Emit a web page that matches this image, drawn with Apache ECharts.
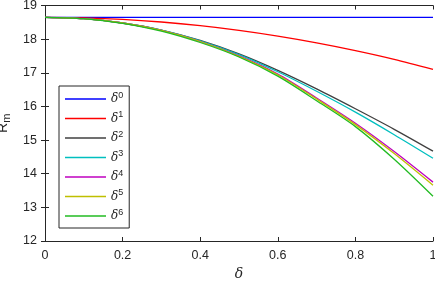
<!DOCTYPE html>
<html><head><meta charset="utf-8">
<script src="https://cdn.jsdelivr.net/npm/echarts@6/dist/echarts.min.js"></script>
<style>html,body{margin:0;padding:0;background:#fff}#c{width:435px;height:282px}</style>
</head><body><div id="c"></div>
<script>
const deltas = [0, 0.1, 0.2, 0.3, 0.4, 0.5, 0.6, 0.7, 0.8, 0.9, 1.0];
const seriesNames = ['0','1','2','3','4','5','6'];
const r0 = [18.65, 18.65, 18.65, 18.65, 18.65, 18.65, 18.65, 18.65, 18.65, 18.65, 18.65];
const r1 = [18.65, 18.635, 18.59, 18.51, 18.40, 18.26, 18.09, 17.89, 17.66, 17.40, 17.10];
const r2 = [18.65, 18.61, 18.48, 18.27, 17.96, 17.56, 17.07, 16.52, 15.93, 15.32, 14.67];
const r3 = [18.65, 18.61, 18.48, 18.27, 17.95, 17.54, 17.03, 16.45, 15.83, 15.16, 14.46];
const r4 = [18.65, 18.61, 18.48, 18.26, 17.93, 17.50, 16.96, 16.25, 15.50, 14.66, 13.75];
const r5 = [18.65, 18.61, 18.48, 18.26, 17.93, 17.49, 16.94, 16.22, 15.46, 14.60, 13.66];
const r6 = [18.65, 18.61, 18.47, 18.24, 17.90, 17.47, 16.90, 16.17, 15.40, 14.43, 13.33];
const xTicks = [0, 0.2, 0.4, 0.6, 0.8, 1];
const yTicks = [12, 13, 14, 15, 16, 17, 18, 19];
const colors = ['#0000ff', '#ff0000', '#404040', '#00bfbf', '#bf00bf', '#bfbf00', '#22bb22'];
const allSeries = [r0, r1, r2, r3, r4, r5, r6];

const axisColor = '#262626';
const font = 'Liberation Sans, Arial, sans-serif';

const chart = echarts.init(document.getElementById('c'));
const option = {
  animation: false,
  backgroundColor: '#fff',
  grid: { left: 45, right: 2, top: 5.5, bottom: 41, containLabel: false, outerBoundsMode: 'none' },
  xAxis: [
    { type: 'value', min: 0, max: 1, interval: 0.2,
      name: 'δ', nameLocation: 'middle', nameGap: 24,
      nameTextStyle: { fontFamily: 'DejaVu Serif, serif', fontStyle: 'italic', fontSize: 14, color: axisColor },
      axisLine: { show: true, lineStyle: { color: axisColor, width: 1 } },
      axisTick: { show: true, inside: true, length: 4, lineStyle: { color: axisColor } },
      axisLabel: { color: axisColor, fontFamily: font, fontSize: 12.5, margin: 8,
        formatter: v => (Math.abs(v) < 1e-9 ? '0' : (Math.abs(v-1) < 1e-9 ? '1' : String(+v.toFixed(1)))) },
      splitLine: { show: false } },
    { type: 'value', min: 0, max: 1, interval: 0.2, position: 'top',
      axisLine: { show: true, lineStyle: { color: axisColor, width: 1 } },
      axisTick: { show: true, inside: true, length: 4, lineStyle: { color: axisColor } },
      axisLabel: { show: false }, splitLine: { show: false } }
  ],
  yAxis: [
    { type: 'value', min: 12, max: 19, interval: 1,
      name: '{r|R}{m|m}', nameLocation: 'middle', nameGap: 29, nameRotate: 90,
      nameTextStyle: { color: axisColor, fontFamily: font,
        rich: { r: { fontSize: 14, fontFamily: font, color: axisColor },
                m: { fontSize: 11, fontFamily: font, color: axisColor, padding: [8, 0, 0, 0] } } },
      axisLine: { show: true, lineStyle: { color: axisColor, width: 1 } },
      axisTick: { show: true, inside: true, length: 4, lineStyle: { color: axisColor } },
      axisLabel: { color: axisColor, fontFamily: font, fontSize: 12.5, margin: 8 },
      splitLine: { show: false } },
    { type: 'value', min: 12, max: 19, interval: 1, position: 'right',
      axisLine: { show: true, lineStyle: { color: axisColor, width: 1 } },
      axisTick: { show: true, inside: true, length: 4, lineStyle: { color: axisColor } },
      axisLabel: { show: false }, splitLine: { show: false } }
  ],
  legend: {
    orient: 'vertical', left: 59, top: 86,
    data: seriesNames,
    icon: 'rect', itemWidth: 41, itemHeight: 1.5, itemGap: 5.5,
    backgroundColor: '#fff', borderColor: axisColor, borderWidth: 1,
    padding: [5, 6, 6, 6],
    formatter: n => '{d|δ}{s|' + n + '}',
    textStyle: { color: axisColor, fontSize: 12,
      rich: { d: { fontFamily: 'DejaVu Serif, serif', fontStyle: 'italic', fontSize: 12, color: axisColor },
              s: { fontFamily: font, fontSize: 9, color: axisColor, padding: [0, 0, 7, 0] } } }
  },
  series: allSeries.map((arr, i) => ({
    name: seriesNames[i], type: 'line', smooth: 0.3, symbol: 'none',
    xAxisIndex: 0, yAxisIndex: 0,
    lineStyle: { color: colors[i], width: 1.3 }, itemStyle: { color: colors[i] },
    data: deltas.map((d, k) => [d, arr[k]])
  }))
};
chart.setOption(option);
</script></body></html>
